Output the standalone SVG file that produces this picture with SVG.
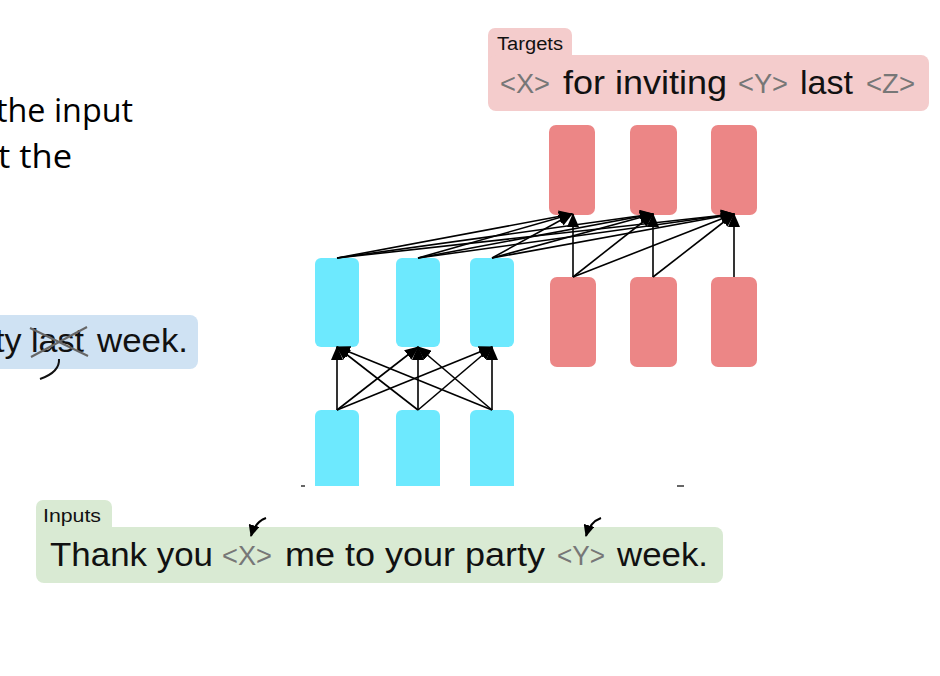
<svg xmlns="http://www.w3.org/2000/svg" width="940" height="676" viewBox="0 0 940 676">
<defs>
<marker id="ah" markerUnits="userSpaceOnUse" markerWidth="14" markerHeight="12" refX="13" refY="6" orient="auto">
<path d="M0,0 L14,6 L0,12 z" fill="#000"/>
</marker>
<marker id="ahs" markerUnits="userSpaceOnUse" markerWidth="12" markerHeight="11" refX="11" refY="5.5" orient="auto">
<path d="M0,0 L12,5.5 L0,11 z" fill="#000"/>
</marker>
<style>
.big{font-family:"Liberation Sans",Arial,sans-serif;font-size:34px;fill:#111}
.tok{font-family:"Liberation Sans",Arial,sans-serif;font-size:27px;fill:#777}
.tab{font-family:"Liberation Sans",Arial,sans-serif;font-size:18px;fill:#111}
.slide{font-family:"Open Sans","Liberation Sans",sans-serif;font-size:32px;fill:#000}
.cy{fill:#6de9fe}
.rd{fill:#ec8686}
.cn line{stroke:#000;stroke-width:1.6;marker-end:url(#ah)}
</style>
</defs>
<rect width="940" height="676" fill="#fff"/>

<g id="slide-text">
<text class="slide" x="-4" y="122" textLength="137" lengthAdjust="spacingAndGlyphs">the input</text>
<text class="slide" x="-2" y="168" textLength="74" lengthAdjust="spacingAndGlyphs">t the</text>
</g>

<g id="example">
<rect x="-12" y="315" width="210" height="54" rx="8" fill="#cfe2f3"/>
<text class="big" x="-5" y="352">ty</text>
<text class="big" x="31" y="352">last</text>
<text class="big" x="97" y="352" textLength="91" lengthAdjust="spacingAndGlyphs">week.</text>
<g stroke="#666" stroke-width="2" fill="none">
<line x1="30" y1="328" x2="88" y2="356"/>
<line x1="31" y1="357" x2="87" y2="327"/>
</g>
<path d="M59,359 Q60,372 40,379" fill="none" stroke="#111" stroke-width="2"/>
</g>

<g id="targets">
<rect x="488" y="28" width="84" height="40" rx="7" fill="#f4cccc"/>
<rect x="488" y="55" width="441" height="56" rx="8" fill="#f4cccc"/>
<text class="tab" x="497" y="50" textLength="66" lengthAdjust="spacingAndGlyphs">Targets</text>
<text class="tok" x="500" y="93" textLength="50" lengthAdjust="spacingAndGlyphs">&lt;X&gt;</text>
<text class="big" x="563" y="94" textLength="164" lengthAdjust="spacingAndGlyphs">for inviting</text>
<text class="tok" x="738" y="93" textLength="50" lengthAdjust="spacingAndGlyphs">&lt;Y&gt;</text>
<text class="big" x="800" y="94" textLength="53" lengthAdjust="spacingAndGlyphs">last</text>
<text class="tok" x="866" y="93" textLength="49" lengthAdjust="spacingAndGlyphs">&lt;Z&gt;</text>
</g>

<g id="inputs">
<rect x="36" y="500" width="76" height="40" rx="7" fill="#d9ead3"/>
<rect x="36" y="527" width="687" height="56" rx="8" fill="#d9ead3"/>
<text class="tab" x="43" y="522" textLength="58" lengthAdjust="spacingAndGlyphs">Inputs</text>
<text class="big" x="50" y="566" textLength="163" lengthAdjust="spacingAndGlyphs">Thank you</text>
<text class="tok" x="222" y="565" textLength="50" lengthAdjust="spacingAndGlyphs">&lt;X&gt;</text>
<text class="big" x="285" y="566" textLength="260" lengthAdjust="spacingAndGlyphs">me to your party</text>
<text class="tok" x="557" y="565" textLength="48" lengthAdjust="spacingAndGlyphs">&lt;Y&gt;</text>
<text class="big" x="617" y="566" textLength="91" lengthAdjust="spacingAndGlyphs">week.</text>
<path d="M266,518 Q255,522 251,536" fill="none" stroke="#000" stroke-width="2" marker-end="url(#ahs)"/>
<path d="M601,518 Q590,522 586,536" fill="none" stroke="#000" stroke-width="2" marker-end="url(#ahs)"/>
</g>

<g id="enc-bottom-1"><path class="cy" d="M315,486 V416 a6,6 0 0 1 6,-6 h32 a6,6 0 0 1 6,6 V486 z"/></g>
<g id="enc-bottom-2"><path class="cy" d="M396,486 V416 a6,6 0 0 1 6,-6 h32 a6,6 0 0 1 6,6 V486 z"/></g>
<g id="enc-bottom-3"><path class="cy" d="M470,486 V416 a6,6 0 0 1 6,-6 h32 a6,6 0 0 1 6,6 V486 z"/></g>
<g id="artifacts" stroke="#333" stroke-width="1.5">
<line x1="301" y1="486" x2="305" y2="486"/>
<line x1="677" y1="486" x2="684" y2="486"/>
</g>

<g id="enc-top-1"><rect class="cy" x="315" y="258" width="44" height="89" rx="6"/></g>
<g id="enc-top-2"><rect class="cy" x="396" y="258" width="44" height="89" rx="6"/></g>
<g id="enc-top-3"><rect class="cy" x="470" y="258" width="44" height="89" rx="6"/></g>

<g id="dec-in-1"><rect class="rd" x="550" y="277" width="46" height="90" rx="7"/></g>
<g id="dec-in-2"><rect class="rd" x="630" y="277" width="47" height="90" rx="7"/></g>
<g id="dec-in-3"><rect class="rd" x="711" y="277" width="46" height="90" rx="7"/></g>

<g id="dec-out-1"><rect class="rd" x="549" y="125" width="46" height="90" rx="7"/></g>
<g id="dec-out-2"><rect class="rd" x="630" y="125" width="47" height="90" rx="7"/></g>
<g id="dec-out-3"><rect class="rd" x="711" y="125" width="46" height="90" rx="7"/></g>

<g id="connectors" class="cn">
<line x1="337" y1="410" x2="337" y2="347"/>
<line x1="337" y1="410" x2="418" y2="347"/>
<line x1="337" y1="410" x2="492" y2="347"/>
<line x1="418" y1="410" x2="337" y2="347"/>
<line x1="418" y1="410" x2="418" y2="347"/>
<line x1="418" y1="410" x2="492" y2="347"/>
<line x1="492" y1="410" x2="337" y2="347"/>
<line x1="492" y1="410" x2="418" y2="347"/>
<line x1="492" y1="410" x2="492" y2="347"/>

<line x1="337" y1="258" x2="572" y2="214"/>
<line x1="337" y1="258" x2="653" y2="214"/>
<line x1="337" y1="258" x2="734" y2="214"/>
<line x1="418" y1="258" x2="572" y2="214"/>
<line x1="418" y1="258" x2="653" y2="214"/>
<line x1="418" y1="258" x2="734" y2="214"/>
<line x1="492" y1="258" x2="572" y2="214"/>
<line x1="492" y1="258" x2="653" y2="214"/>
<line x1="492" y1="258" x2="734" y2="214"/>

<line x1="573" y1="277" x2="573" y2="214"/>
<line x1="573" y1="277" x2="653" y2="214"/>
<line x1="573" y1="277" x2="734" y2="214"/>
<line x1="653" y1="277" x2="653" y2="214"/>
<line x1="653" y1="277" x2="734" y2="214"/>
<line x1="734" y1="277" x2="734" y2="214"/>
</g>
</svg>
